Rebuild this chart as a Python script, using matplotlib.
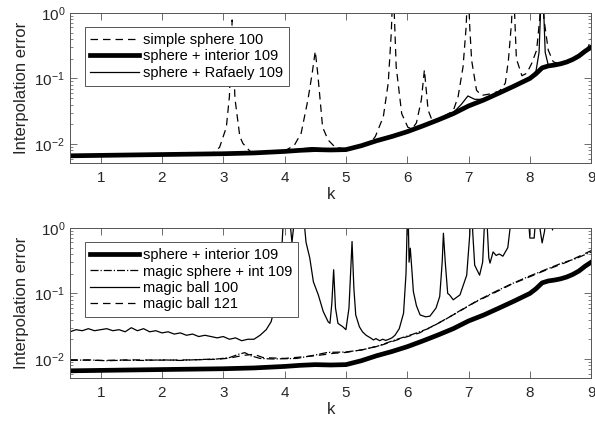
import matplotlib
matplotlib.use("Agg")
import matplotlib.pyplot as plt
import numpy as np

plt.rcParams['font.family'] = ['Liberation Sans', 'DejaVu Sans']
plt.rcParams['mathtext.fontset'] = 'custom'
plt.rcParams['mathtext.rm'] = 'Liberation Sans'
plt.rcParams['mathtext.it'] = 'Liberation Sans:italic'
plt.rcParams['mathtext.bf'] = 'Liberation Sans:bold'
plt.rcParams['mathtext.default'] = 'regular'

DARK = '#262626'
AXC = '#555555'

# ---- data (k, interpolation error) ----
# sphere + interior 109 (thick line, same in both panels)
k_interior = [0.5, 1.0, 1.5, 2.0, 2.5, 3.0, 3.5, 4.0, 4.25, 4.5, 4.75, 5.0, 5.25,
              5.5, 5.75, 6.0, 6.25, 6.5, 6.75, 7.0, 7.25, 7.5, 7.75, 8.0, 8.1,
              8.2, 8.3, 8.4, 8.5, 8.6, 8.7, 8.8, 8.9, 9.0]
e_interior = [0.0066, 0.0067, 0.0068, 0.0069, 0.0070, 0.0071, 0.0073, 0.0077, 0.0080,
              0.0082, 0.0081, 0.0082, 0.0094, 0.0112, 0.0130, 0.0154, 0.0188, 0.0232,
              0.029, 0.038, 0.047, 0.060, 0.077, 0.100, 0.118, 0.145, 0.155, 0.160,
              0.167, 0.178, 0.195, 0.22, 0.26, 0.30]

# simple sphere 100 (dashed, top)
k_simple = [0.5, 1.0, 1.5, 2.0, 2.5, 2.83, 2.94, 3.05, 3.10, 3.145, 3.19, 3.22, 3.27,
            3.32, 3.45, 4.0, 4.16, 4.27, 4.38, 4.45, 4.50, 4.54, 4.57, 4.62, 4.71,
            4.82, 5.0, 5.25, 5.42, 5.48, 5.61, 5.69, 5.74, 5.77, 5.80, 5.82, 5.91,
            6.01, 6.08, 6.15, 6.23, 6.28, 6.34, 6.42, 6.5, 6.75, 6.83, 6.91, 6.96,
            6.99, 7.02, 7.05, 7.13, 7.21, 7.35, 7.5, 7.54, 7.60, 7.65, 7.70, 7.73,
            7.76, 7.78, 7.87, 7.95, 8.03, 8.11, 8.16, 8.19, 8.23, 8.30, 8.38, 8.45,
            8.6, 8.7, 8.8, 8.9, 8.95, 9.0]
e_simple = [0.0066, 0.0067, 0.0068, 0.0069, 0.0070, 0.0072, 0.0089, 0.018, 0.053, 0.78,
            0.05, 0.03, 0.013, 0.0102, 0.0075, 0.0078, 0.0096, 0.0146, 0.047, 0.12,
            0.26, 0.12, 0.059, 0.018, 0.0115, 0.0090, 0.0083, 0.0095, 0.011, 0.013,
            0.026, 0.085, 0.5, 3.0, 0.5, 0.15, 0.029, 0.018, 0.017, 0.021, 0.047,
            0.135, 0.033, 0.021, 0.0235, 0.032, 0.053, 0.15, 0.6, 3.0, 0.6, 0.19,
            0.066, 0.055, 0.058, 0.064, 0.07, 0.085, 0.19, 0.7, 3.0, 0.6, 0.2, 0.11,
            0.12, 0.17, 0.27, 0.8, 3.0, 0.8, 0.27, 0.18, 0.17, 0.18, 0.196, 0.222,
            0.26, 0.3, 0.4]

# sphere + Rafaely 109 (thin solid, top)
k_rafaely = [0.5, 2.8, 3.0, 4.0, 4.3, 4.45, 4.6, 4.8, 5.0, 5.25, 5.5, 5.75, 6.0, 6.25,
             6.5, 6.75, 6.88, 6.99, 7.10, 7.25, 7.5, 7.75, 8.0, 8.1, 8.15, 8.18, 8.20,
             8.22, 8.25, 8.3, 8.4, 8.5, 8.6, 8.7, 8.8, 8.9, 9.0]
e_rafaely = [0.0066, 0.0071, 0.0072, 0.0078, 0.0085, 0.0088, 0.0085, 0.0083, 0.0083,
             0.0095, 0.0113, 0.0131, 0.0155, 0.019, 0.0234, 0.030, 0.040, 0.054, 0.048,
             0.048, 0.061, 0.078, 0.102, 0.13, 0.25, 1.5, 3.0, 1.5, 0.25, 0.16, 0.161,
             0.168, 0.179, 0.196, 0.221, 0.261, 0.30]

# magic sphere + int 109 (dash-dot, bottom)
k_msi = [0.5, 0.8, 1.1, 1.4, 1.7, 2.0, 2.3, 2.6, 2.9, 3.1, 3.25, 3.35, 3.45, 3.6, 3.8,
         4.0, 4.2, 4.5, 4.7, 5.0, 5.25, 5.5, 5.8, 6.1, 6.34, 6.6, 6.88, 7.15, 7.43,
         7.7, 7.97, 8.25, 8.52, 8.75, 9.0]
e_msi = [0.0095, 0.0097, 0.0094, 0.0096, 0.0095, 0.0097, 0.0095, 0.0098, 0.0100, 0.0105,
         0.0118, 0.0125, 0.0112, 0.0102, 0.0100, 0.0101, 0.0102, 0.0115, 0.0126, 0.0128,
         0.0137, 0.0155, 0.0195, 0.024, 0.029, 0.039, 0.056, 0.078, 0.106, 0.14, 0.18,
         0.23, 0.29, 0.34, 0.43]

# magic ball 100 (thin solid, bottom)
k_mb100 = [0.5, 0.6, 0.7, 0.8, 0.9, 1.0, 1.1, 1.2, 1.3, 1.4, 1.5, 1.6, 1.7, 1.8, 1.9,
           2.0, 2.1, 2.2, 2.3, 2.4, 2.5, 2.6, 2.7, 2.8, 2.9, 3.0, 3.1, 3.2, 3.3, 3.4,
           3.5, 3.6, 3.7, 3.78, 3.88, 3.95, 4.0, 4.05, 4.12, 4.2, 4.28, 4.35, 4.41,
           4.47, 4.55, 4.63, 4.71, 4.74, 4.77, 4.80, 4.83, 4.87, 4.95, 5.0, 5.05, 5.10,
           5.13, 5.16, 5.22, 5.27, 5.33, 5.4, 5.45, 5.49, 5.55, 5.6, 5.65, 5.7, 5.75,
           5.8, 5.87, 5.94, 5.98, 6.01, 6.03, 6.05, 6.08, 6.1, 6.15, 6.21, 6.3, 6.37,
           6.47, 6.53, 6.57, 6.59, 6.62, 6.66, 6.69, 6.75, 6.86, 6.97, 7.02, 7.04, 7.07,
           7.10, 7.18, 7.23, 7.28, 7.33, 7.35, 7.40, 7.45, 7.5, 7.56, 7.64, 7.70, 7.8,
           7.95, 8.0, 8.07, 8.12, 8.17, 8.2, 8.24, 8.28, 8.37, 8.4, 9.0]
e_mb100 = [0.026, 0.028, 0.027, 0.029, 0.027, 0.028, 0.029, 0.027, 0.028, 0.026, 0.030,
           0.027, 0.029, 0.026, 0.027, 0.025, 0.026, 0.024, 0.025, 0.023, 0.024, 0.022,
           0.023, 0.022, 0.021, 0.022, 0.020, 0.021, 0.019, 0.020, 0.020, 0.023, 0.028,
           0.037, 0.085, 0.4, 3.0, 3.0, 0.6, 3.0, 3.0, 0.6, 0.35, 0.15, 0.095, 0.053,
           0.037, 0.035, 0.07, 0.23, 0.06, 0.035, 0.031, 0.028, 0.06, 0.62, 0.12, 0.047,
           0.031, 0.026, 0.023, 0.021, 0.0195, 0.0205, 0.019, 0.020, 0.0192, 0.020,
           0.021, 0.023, 0.029, 0.05, 0.2, 3.0, 0.3, 0.49, 0.2, 0.107, 0.065, 0.047,
           0.044, 0.045, 0.06, 0.09, 0.3, 0.83, 0.3, 0.1, 0.095, 0.08, 0.095, 0.19, 0.8,
           3.0, 0.8, 0.27, 0.19, 0.3, 3.0, 0.35, 0.29, 0.43, 0.38, 0.40, 0.37, 0.5, 1.5,
           3.0, 3.0, 0.7, 0.7, 3.0, 0.9, 0.59, 0.9, 3.0, 0.93, 3.0, 3.0]

# magic ball 121 (dashed, bottom)
k_mb121 = [0.5, 1.0, 1.5, 2.0, 2.5, 2.9, 3.1, 3.25, 3.35, 3.5, 3.65, 4.0, 4.5, 4.8, 5.0,
           5.3, 5.6, 5.9, 6.2, 6.5, 6.8, 7.1, 7.4, 7.7, 8.0, 8.3, 8.6, 9.0]
e_mb121 = [0.0097, 0.0095, 0.0097, 0.0096, 0.0097, 0.0099, 0.0103, 0.0110, 0.0114,
           0.0118, 0.0105, 0.0102, 0.0112, 0.0122, 0.0126, 0.0140, 0.0165, 0.0205,
           0.025, 0.035, 0.050, 0.073, 0.100, 0.138, 0.18, 0.235, 0.30, 0.45]

xticks = [1, 2, 3, 4, 5, 6, 7, 8, 9]


def style_axes(ax):
    ax.set_yscale('log')
    ax.set_xlim(0.5, 9)
    ax.set_ylim(10 ** -2.29, 1)
    ax.set_xticks(xticks)
    ax.set_yticks([1e-2, 1e-1, 1])
    ax.tick_params(which='both', direction='in', top=True, right=True,
                   color=AXC, labelcolor=DARK, labelsize=11)
    ax.tick_params(which='major', length=5, width=0.6)
    ax.tick_params(which='minor', length=2.5, width=0.5)
    ax.tick_params(axis='x', which='major', pad=6)
    ax.tick_params(axis='x', which='minor', top=False, bottom=False)
    for s in ax.spines.values():
        s.set_color(AXC)
        s.set_linewidth(0.7)
    ax.set_xlabel('k', fontsize=12, color=DARK, labelpad=1)
    ax.set_ylabel('Interpolation error', fontsize=12, color=DARK)


fig = plt.figure(figsize=(5.95, 4.24), dpi=100)
ax1 = fig.add_axes([0.1176, 0.6156, 0.876, 0.354])
ax2 = fig.add_axes([0.1176, 0.1085, 0.876, 0.354])

dash = (0, (6, 4))

ax1.plot(k_simple, e_simple, color='k', lw=0.9, ls=dash, label='simple sphere 100')
ax1.plot(k_interior, e_interior, color='k', lw=3.4, label='sphere + interior 109')
ax1.plot(k_rafaely, e_rafaely, color='k', lw=0.9, label='sphere + Rafaely 109')

ax2.plot(k_interior, e_interior, color='k', lw=3.4, label='sphere + interior 109')
ax2.plot(k_msi, e_msi, color='k', lw=0.9, ls='-.', label='magic sphere + int 109')
ax2.plot(k_mb100, e_mb100, color='k', lw=0.9, label='magic ball 100')
ax2.plot(k_mb121, e_mb121, color='k', lw=0.9, ls=dash, label='magic ball 121')

for ax in (ax1, ax2):
    style_axes(ax)
    leg = ax.legend(loc='upper left', fontsize=10.5, frameon=True, fancybox=False,
                    framealpha=1, edgecolor=AXC, handlelength=3.3,
                    handletextpad=0.3, labelspacing=0.15, borderaxespad=1.0,
                    borderpad=0.4)
    leg.get_frame().set_linewidth(0.7)

fig.savefig('out.png', dpi=100)
